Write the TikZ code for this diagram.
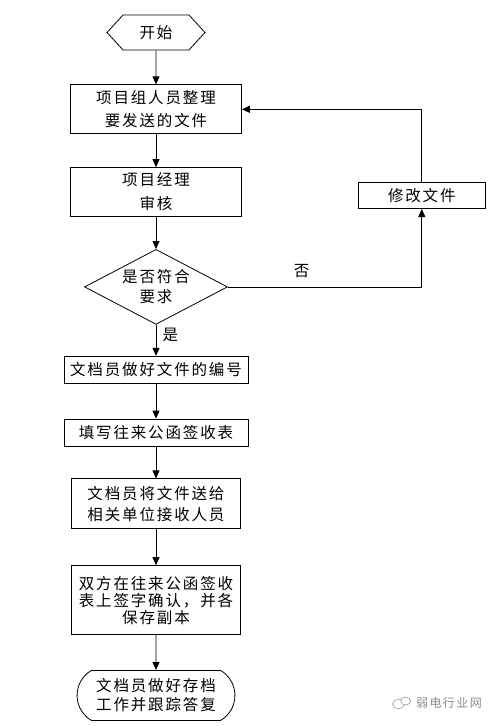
\documentclass[tikz,border=0pt]{standalone}
\usepackage{fontspec}
\newfontfamily\cjk[LetterSpace=12]{Noto Sans CJK SC}
\usetikzlibrary{shapes.geometric, shapes.symbols, shapes.misc, arrows.meta, positioning}

\begin{document}
\begin{tikzpicture}[
        x=1pt, y=-1pt,
        base/.style={
            draw=black,
            line width=0.8pt,
            fill=white,
            align=center,
            inner sep=0pt,
            font=\cjk\fontsize{15.5}{23}\selectfont
        },
        stepbox/.style={
            base,
            rectangle,
            minimum width=171pt,
            minimum height=49pt
        },
        startbox/.style={
            base,
            signal,
            signal to=west and east,
            signal pointer angle=95,
            minimum width=98pt,
            minimum height=35pt
        },
        endbox/.style={
            base,
            rounded rectangle,
            rounded rectangle arc length=120,
            minimum width=158pt,
            minimum height=50pt,
            font=\cjk\fontsize{15.5}{19}\selectfont
        },
        checkbox/.style={
            base,
            diamond,
            aspect=1.9,
            minimum width=143pt,
            minimum height=75pt,
            font=\cjk\fontsize{15.5}{20}\selectfont
        },
        arrow/.style={
            -{Triangle[length=8pt, width=7pt]},
            draw=black,
            line width=0.8pt
        },
        lbl/.style={
            font=\cjk\fontsize{15.5}{18}\selectfont
        }
    ]
    \useasboundingbox (0,0) rectangle (494,726);

    % Main flow
    \node[startbox] (start) at (156,32.5) {开始};
    \node[stepbox, below=34pt of start] (prep) {项目组人员整理\\要发送的文件};
    \node[stepbox, below=33pt of prep, font=\cjk\fontsize{15.5}{24}\selectfont] (review) {项目经理\\审核};
    \node[checkbox, below=32pt of review] (check) {是否符合\\要求};
    \node[stepbox, below=31pt of check, minimum width=184pt, minimum height=27pt] (number) {文档员做好文件的编号};
    \node[stepbox, below=35pt of number, minimum width=184pt, minimum height=27pt] (form) {填写往来公函签收表};
    \node[stepbox, below=32pt of form, minimum width=169pt, minimum height=50pt, font=\cjk\fontsize{15.5}{21}\selectfont] (send) {文档员将文件送给\\相关单位接收人员};
    \node[stepbox, below=36pt of send, minimum width=169pt, minimum height=69pt, font=\cjk\fontsize{15.5}{17}\selectfont] (sign) {双方在往来公函签收\\表上签字确认，并各\\保存副本};
    \node[endbox, below=35pt of sign] (archive) {文档员做好存档\\工作并跟踪答复};

    % Rework branch
    \node[stepbox, right=116pt of review, yshift=-3.5pt, minimum width=127pt, minimum height=26pt] (fix) {修改文件};

    % Connecting Arrows
    \draw[arrow] (start) -- (prep);
    \draw[arrow] (prep) -- (review);
    \draw[arrow] (review) -- (check);
    \draw[arrow] (check) -- (number) node[lbl, pos=0.33, right, xshift=3pt] {是};
    \draw[arrow] (number) -- (form);
    \draw[arrow] (form) -- (send);
    \draw[arrow] (send) -- (sign);
    \draw[arrow] (sign) -- (archive);
    \draw[arrow] (check.east) -| (fix.south) node[lbl, pos=0.19, above=5pt] {否};
    \draw[arrow] (fix.north) |- (prep.east);

    % Watermark
    \node[text=black!45, font=\cjk\fontsize{12}{14}\selectfont] (mark) at (449,703) {弱电行业网};
    \draw[black!40, line width=0.6pt] ([xshift=-14pt, yshift=-1pt]mark.west) ellipse (6pt and 4.5pt);
    \draw[black!40, line width=0.6pt, fill=white] ([xshift=-7pt, yshift=2pt]mark.west) ellipse (5pt and 4pt);

\end{tikzpicture}
\end{document}
